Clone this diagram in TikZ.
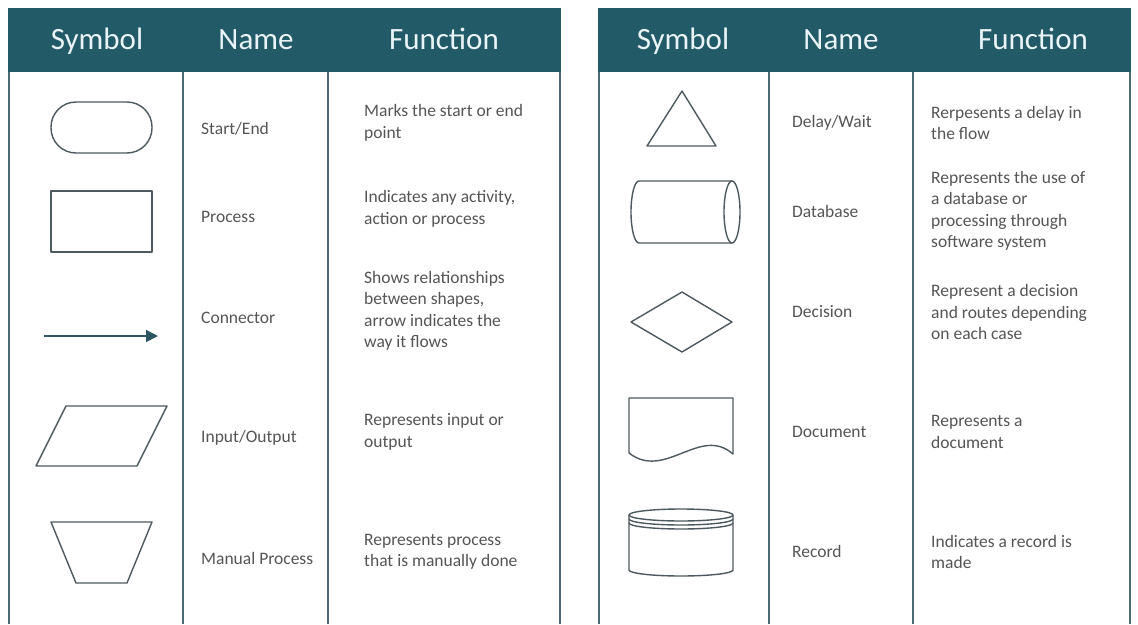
\documentclass[tikz,border=0pt]{standalone}
\usepackage{fontspec}
\setmainfont{Carlito}
\usetikzlibrary{arrows.meta}
\definecolor{hdr}{HTML}{235A67}
\definecolor{hdrtext}{HTML}{E8F4F7}
\definecolor{rulec}{HTML}{4A6B75}
\definecolor{shp}{HTML}{4D5A5F}
\definecolor{txt}{HTML}{555555}
\definecolor{arr}{HTML}{2E5562}
\begin{document}
\begin{tikzpicture}[x=1pt,y=-1pt,
  hdrbox/.style={fill=hdr, draw=none},
  hdrlabel/.style={text=hdrtext, font=\fontsize{31}{36}\selectfont, anchor=base, inner sep=0},
  colrule/.style={draw=rulec, line width=1.6pt},
  sym/.style={draw=shp, line width=1.4pt, line join=round},
  namelabel/.style={text=txt, font=\fontsize{17.5}{21.5}\selectfont, anchor=west, inner sep=0},
  funclabel/.style={text=txt, font=\fontsize{17.5}{21.5}\selectfont, anchor=west, inner sep=0, align=left},
]
\useasboundingbox (0,0) rectangle (1138,624);
\fill[white] (0,0) rectangle (1138,624);

% ---------- left table ----------
\fill[hdrbox] (8,8) rectangle (561,72);
\draw[colrule] (9,72) -- (9,624);
\draw[colrule] (183,72) -- (183,624);
\draw[colrule] (328,72) -- (328,624);
\draw[colrule] (560,72) -- (560,624);
\node[hdrlabel] (hl1) at (97,49) {Symbol};
\node[hdrlabel] (hl2) at (256,49) {Name};
\node[hdrlabel] (hl3) at (444,49) {Function};

% ---------- right table ----------
\fill[hdrbox] (598,8) rectangle (1131,72);
\draw[colrule] (599,72) -- (599,624);
\draw[colrule] (769,72) -- (769,624);
\draw[colrule] (913,72) -- (913,624);
\draw[colrule] (1130,72) -- (1130,624);
\node[hdrlabel] (hr1) at (683,49) {Symbol};
\node[hdrlabel] (hr2) at (841,49) {Name};
\node[hdrlabel] (hr3) at (1033,49) {Function};

% ---------- left symbols ----------
\draw[sym, rounded corners=25pt] (51,102) rectangle (152,153);
\draw[sym] (51,191) rectangle (152,252);
\coordinate (ca) at (44,336);
\coordinate (cb) at (158,336);
\draw[draw=arr, line width=1.6pt, -{Triangle[length=12pt,width=12pt]}] (ca) -- (cb);
\draw[sym] (66,406) -- (167,406) -- (137,466) -- (36,466) -- cycle;
\draw[sym] (51,522) -- (152,522) -- (127,583) -- (76,583) -- cycle;

% ---------- left texts ----------
\node[namelabel] (n1) at (201,129) {Start/End};
\node[namelabel] (n2) at (201,217) {Process};
\node[namelabel] (n3) at (201,318) {Connector};
\node[namelabel] (n4) at (201,438) {Input/Output};
\node[namelabel] (n5) at (201,558) {Manual Process};

\node[funclabel] (f1) at (364,123) {Marks the start or end\\point};
\node[funclabel] (f2) at (364,209) {Indicates any activity,\\action or process};
\node[funclabel] (f3) at (364,311) {Shows relationships\\between shapes,\\arrow indicates the\\way it flows};
\node[funclabel] (f4) at (364,432) {Represents input or\\output};
\node[funclabel] (f5) at (364,552) {Represents process\\that is manually done};

% ---------- right symbols ----------
\draw[sym] (682,91) -- (716,146) -- (647,146) -- cycle;
% database
\draw[sym] (732,181) -- (639,181) arc[start angle=270, end angle=90, x radius=8, y radius=31] -- (732,243);
\draw[sym] (732,212) ellipse[x radius=8, y radius=31];
% decision
\draw[sym] (682,292) -- (732,322) -- (682,352) -- (631,322) -- cycle;
% document
\draw[sym] (629,453) -- (629,398) -- (733,398) -- (733,454)
  .. controls (700,425) and (665,481) .. (629,453);
% record
\draw[sym] (681,515) ellipse[x radius=52, y radius=6];
\draw[sym] (629,519) arc[start angle=180, end angle=0, x radius=52, y radius=6];
\draw[sym] (629,523) arc[start angle=180, end angle=0, x radius=52, y radius=6];
\draw[sym] (629,515) -- (629,570) arc[start angle=180, end angle=0, x radius=52, y radius=6] -- (733,515);

% ---------- right texts ----------
\node[namelabel] (m1) at (792,123) {Delay/Wait};
\node[namelabel] (m2) at (792,211) {Database};
\node[namelabel] (m3) at (792,312) {Decision};
\node[namelabel] (m4) at (792,432) {Document};
\node[namelabel] (m5) at (792,551) {Record};

\node[funclabel] (g1) at (931,123) {Rerpesents a delay in\\the flow};
\node[funclabel] (g2) at (931,211) {Represents the use of\\a database or\\processing through\\software system};
\node[funclabel] (g3) at (931,312) {Represent a decision\\and routes depending\\on each case};
\node[funclabel] (g4) at (931,432) {Represents a\\document};
\node[funclabel] (g5) at (931,552) {Indicates a record is\\made};
\end{tikzpicture}
\end{document}
